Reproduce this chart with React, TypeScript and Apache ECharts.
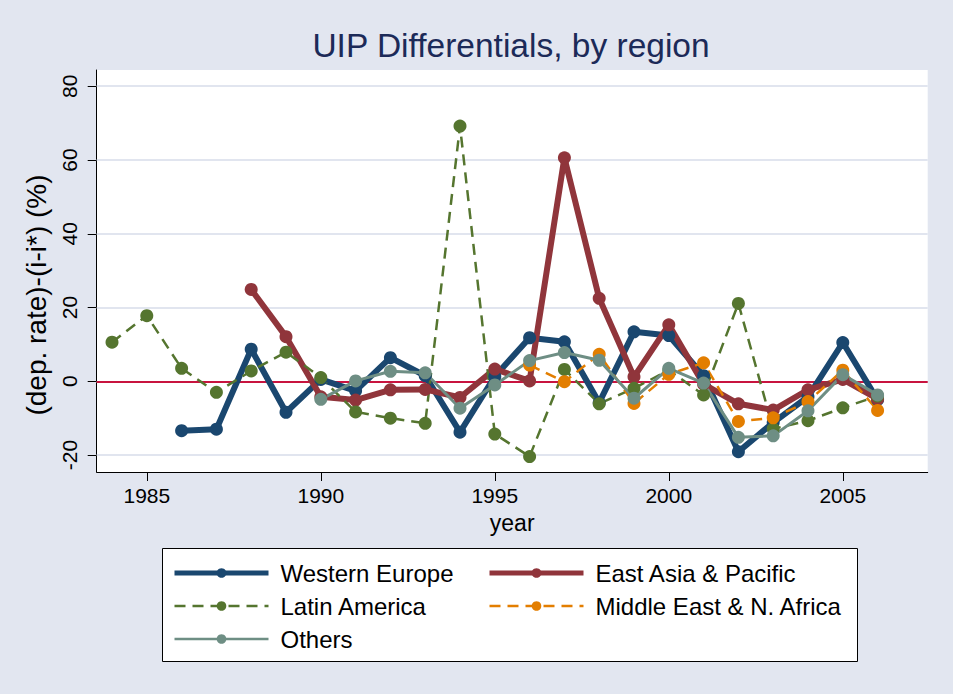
import React, { useEffect, useRef } from "react";
import * as echarts from "echarts";

const years = [1984, 1985, 1986, 1987, 1988, 1989, 1990, 1991, 1992, 1993, 1994, 1995, 1996, 1997, 1998, 1999, 2000, 2001, 2002, 2003, 2004, 2005, 2006];

const westernEurope = [null, null, -13.4, -13.0, 8.7, -8.4, 0.5, -2.6, 6.4, 1.5, -13.8, 1.3, 11.8, 10.7, -5.8, 13.4, 12.4, 1.5, -19.1, -11.2, -4.2, 10.5, -5.0];
const eastAsiaPacific = [null, null, null, null, 24.9, 12.1, -4.2, -5.1, -2.3, -2.2, -4.4, 3.3, 0.1, 60.6, 22.5, 1.2, 15.3, -0.8, -6.1, -7.8, -2.3, 0.5, -4.8];
const latinAmerica = [10.6, 17.8, 3.5, -3.0, 2.8, 7.9, 1.0, -8.3, -10.0, -11.4, 69.2, -14.3, -20.4, 3.2, -6.1, -1.9, 3.0, -3.7, 21.1, -12.9, -10.7, -7.2, -4.0];
const middleEastNAfrica = [null, null, null, null, null, null, null, null, null, null, null, null, 4.4, -0.1, 7.3, -6.0, 1.9, 5.0, -10.9, -9.9, -5.5, 3.0, -7.9];
const others = [null, null, null, null, null, null, -4.9, 0.1, 2.7, 2.3, -7.3, -1.0, 5.6, 7.8, 5.7, -4.6, 3.5, -0.5, -15.2, -14.8, -8.0, 1.8, -3.7];

const xTicks = [1985, 1990, 1995, 2000, 2005];
const yTicks = [-20, 0, 20, 40, 60, 80];

const FONT = "Liberation Sans, Arial, Helvetica, sans-serif";

function pairs(vals: (number | null)[]) {
  const out: [number, number][] = [];
  vals.forEach((v, i) => {
    if (v !== null) out.push([years[i], v]);
  });
  return out;
}

export default function App() {
  const ref = useRef<HTMLDivElement>(null);
  useEffect(() => {
    document.body.style.margin = "0";
    document.body.style.background = "#e2e6f0";
    const chart = echarts.init(ref.current!, null, { renderer: "svg" });
    const mkSeries = (
      name: string,
      vals: (number | null)[],
      color: string,
      width: number,
      type: any,
      extra: any = {}
    ) => ({
      name,
      type: "line",
      data: pairs(vals),
      symbol: "circle",
      symbolSize: 13,
      showSymbol: true,
      connectNulls: false,
      lineStyle: { color, width, type },
      itemStyle: { color, borderWidth: 0 },
      emphasis: { disabled: true },
      ...extra,
    });
    const legendText = { fontFamily: FONT, fontSize: 24, color: "#000", lineHeight: 24, padding: [0, 0, 0, 7] };
    const option: any = {
      animation: false,
      backgroundColor: "#e2e6f0",
      textStyle: { fontFamily: FONT },
      title: {
        text: "UIP Differentials, by region",
        left: 506,
        top: 23,
        textAlign: "center",
        textStyle: { fontFamily: FONT, fontSize: 33.5, fontWeight: "normal", color: "#1c2a58" },
      },
      grid: {
        left: 96.7,
        right: 25.3,
        top: 70,
        bottom: 222,
        show: true,
        backgroundColor: "#ffffff",
        borderWidth: 0,
        containLabel: false,
      },
      xAxis: {
        type: "value",
        min: 1983.56,
        max: 2007.44,
        name: "year",
        nameLocation: "middle",
        nameGap: 39,
        nameTextStyle: { fontFamily: FONT, fontSize: 23, color: "#000" },
        axisLine: { show: true, onZero: false, lineStyle: { color: "#000", width: 1 } },
        axisTick: { show: true, length: 9, lineStyle: { color: "#000" }, customValues: xTicks },
        axisLabel: {
          customValues: xTicks,
          fontSize: 21,
          color: "#000",
          margin: 13,
          fontFamily: FONT,
          formatter: (v: number) => String(Math.round(v)),
        },
        splitLine: { show: false },
      },
      yAxis: {
        type: "value",
        min: -24.6,
        max: 84.4,
        name: "(dep. rate)-(i-i*) (%)",
        nameLocation: "middle",
        nameGap: 44,
        nameTextStyle: { fontFamily: FONT, fontSize: 28, color: "#000", padding: [0, 48, 0, 0] },
        axisLine: { show: true, onZero: false, lineStyle: { color: "#000", width: 1 } },
        axisTick: { show: true, length: 9, lineStyle: { color: "#000" }, customValues: yTicks },
        axisLabel: {
          customValues: yTicks,
          fontSize: 21,
          color: "#000",
          margin: 17,
          rotate: 90,
          fontFamily: FONT,
          formatter: (v: number) => String(Math.round(v)),
        },
        splitLine: { show: false },
      },
      legend: [
        {
          data: [
            { name: "Western Europe", lineStyle: { width: 5 } },
            { name: "Latin America", lineStyle: { width: 2.5 } },
            { name: "Others", lineStyle: { width: 2.5 } },
          ],
          orient: "vertical",
          left: 167,
          top: 556,
          itemWidth: 94,
          itemHeight: 12,
          itemGap: 9,
          textStyle: legendText,
          selectedMode: false,
        },
        {
          data: [
            { name: "East Asia & Pacific", lineStyle: { width: 5 } },
            { name: "Middle East & N. Africa", lineStyle: { width: 2.5 } },
          ],
          orient: "vertical",
          left: 482,
          top: 556,
          itemWidth: 94,
          itemHeight: 12,
          itemGap: 9,
          textStyle: legendText,
          selectedMode: false,
        },
      ],
      graphic: [
        {
          type: "rect",
          z: 0,
          shape: { x: 162.5, y: 548.5, width: 695, height: 113 },
          style: { fill: "#ffffff", stroke: "#000000", lineWidth: 1 },
          silent: true,
        },
      ],
      series: [
        mkSeries("Western Europe", westernEurope, "#1a476f", 6, "solid", {
          markLine: {
            silent: true,
            symbol: "none",
            z: 1,
            label: { show: false },
            data: [
              ...yTicks.map((t) => ({ yAxis: t, lineStyle: { color: "#e1e5ef", width: 2, type: "solid" } })),
              { yAxis: 0, lineStyle: { color: "#c8143f", width: 2, type: "solid" } },
            ],
          },
        }),
        mkSeries("East Asia & Pacific", eastAsiaPacific, "#90353b", 6, "solid"),
        mkSeries("Latin America", latinAmerica, "#55752f", 2.5, [11, 7]),
        mkSeries("Middle East & N. Africa", middleEastNAfrica, "#e37e00", 2.5, [11, 7]),
        mkSeries("Others", others, "#6e8e84", 3, "solid"),
      ],
    };
    chart.setOption(option);
    return () => chart.dispose();
  }, []);
  return (
    <div
      ref={ref}
      style={{ position: "fixed", left: 0, top: 0, width: 953, height: 694 }}
    />
  );
}
